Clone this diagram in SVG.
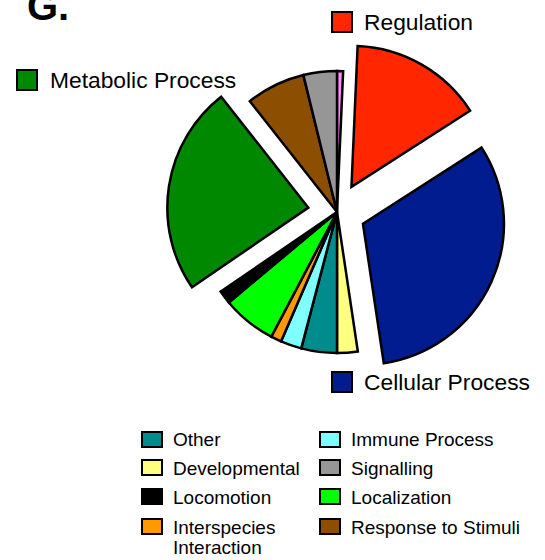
<svg xmlns="http://www.w3.org/2000/svg" width="545" height="560" viewBox="0 0 545 560">
<style>
.s{stroke:#000;stroke-width:2.5;stroke-linejoin:miter}
.b{stroke:#000;stroke-width:2}
.big{font-family:"Liberation Sans",Arial,sans-serif;font-size:22.8px;fill:#000}
.lg{font-family:"Liberation Sans",Arial,sans-serif;font-size:19px;fill:#000}
.title{font-family:"Liberation Sans",Arial,sans-serif;font-size:40px;font-weight:bold;fill:#000}
</style>
<rect width="545" height="560" fill="#fff"/>
<text class="title" x="27" y="20">G.</text>
<g id="pie">
  <g id="slice-other-pink"><path class="s" fill="#FF8CFF" d="M337,212 L337,71 A141,141 0 0 1 343.15,71.13 Z"/></g>
  <g id="slice-regulation"><path class="s" fill="#FF2600" d="M351.46,186.86 L357.61,45.99 A141,141 0 0 1 470.11,110.69 Z"/></g>
  <g id="slice-cellular"><path class="s" fill="#001C8E" d="M362.95,223.77 L481.60,147.60 A141,141 0 0 1 383.79,363.22 Z"/></g>
  <g id="slice-developmental"><path class="s" fill="#FFFF80" d="M337,212 L357.84,351.45 A141,141 0 0 1 337,353 Z"/></g>
  <g id="slice-other"><path class="s" fill="#008C8C" d="M337,212 L337,353 A141,141 0 0 1 301.22,348.39 Z"/></g>
  <g id="slice-immune"><path class="s" fill="#80FFFF" d="M337,212 L301.22,348.39 A141,141 0 0 1 281.00,341.40 Z"/></g>
  <g id="slice-interspecies"><path class="s" fill="#FF9900" d="M337,212 L281.00,341.40 A141,141 0 0 1 271.24,336.73 Z"/></g>
  <g id="slice-localization"><path class="s" fill="#00FF00" d="M337,212 L271.24,336.73 A141,141 0 0 1 228.83,302.44 Z"/></g>
  <g id="slice-locomotion"><path class="s" fill="#000000" d="M337,212 L228.83,302.44 A141,141 0 0 1 220.66,291.66 Z"/></g>
  <g id="slice-metabolic"><path class="s" fill="#008800" d="M308.33,207.61 L191.99,287.27 A141,141 0 0 1 221.13,96.80 Z"/></g>
  <g id="slice-response"><path class="s" fill="#8C4E00" d="M337,212 L249.80,101.19 A141,141 0 0 1 303.37,75.07 Z"/></g>
  <g id="slice-signalling"><path class="s" fill="#969696" d="M337,212 L303.37,75.07 A141,141 0 0 1 337,71 Z"/></g>
</g>
<g id="label-regulation"><rect class="b" x="332" y="12" width="20" height="20" fill="#FF2600"/><text class="big" x="364" y="30">Regulation</text></g>
<g id="label-metabolic"><rect class="b" x="17" y="70" width="20" height="20" fill="#008800"/><text class="big" x="50" y="88">Metabolic Process</text></g>
<g id="label-cellular"><rect class="b" x="332" y="372" width="20" height="20" fill="#001C8E"/><text class="big" x="364" y="390">Cellular Process</text></g>
<g id="legend">
  <g id="lg-other"><rect class="b" x="142" y="432" width="20" height="15" fill="#008C8C"/><text class="lg" x="173" y="446">Other</text></g>
  <g id="lg-developmental"><rect class="b" x="142" y="460" width="20" height="15" fill="#FFFF80"/><text class="lg" x="173" y="475">Developmental</text></g>
  <g id="lg-locomotion"><rect class="b" x="142" y="489" width="20" height="15" fill="#000000"/><text class="lg" x="173" y="504">Locomotion</text></g>
  <g id="lg-interspecies"><rect class="b" x="142" y="519" width="20" height="15" fill="#FF9900"/><text class="lg" x="173" y="534">Interspecies</text><text class="lg" x="173" y="554">Interaction</text></g>
  <g id="lg-immune"><rect class="b" x="320" y="432" width="20" height="15" fill="#80FFFF"/><text class="lg" x="351" y="446">Immune Process</text></g>
  <g id="lg-signalling"><rect class="b" x="320" y="460" width="20" height="15" fill="#969696"/><text class="lg" x="351" y="475">Signalling</text></g>
  <g id="lg-localization"><rect class="b" x="320" y="489" width="20" height="15" fill="#00FF00"/><text class="lg" x="351" y="504">Localization</text></g>
  <g id="lg-response"><rect class="b" x="320" y="519" width="20" height="15" fill="#8C4E00"/><text class="lg" x="351" y="534">Response to Stimuli</text></g>
</g>
</svg>
